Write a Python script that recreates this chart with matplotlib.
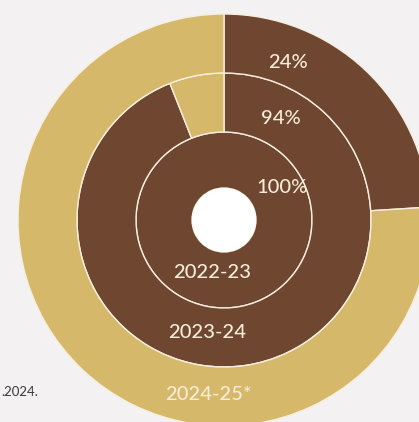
import matplotlib
matplotlib.use("Agg")
import matplotlib.pyplot as plt
from matplotlib.patches import Circle

# Data
years = ["2022-23", "2023-24", "2024-25*"]
shares = [100, 94, 24]          # percent dark (achieved) per year, inner -> outer
pct_labels = ["100%", "94%", "24%"]
footnote = ".2024."

BROWN = "#6f4630"
TAN = "#d6b86a"
BG = "#f3f1f1"
TXT = "#f4ecd6"

fig = plt.figure(figsize=(4.19, 4.22), dpi=100, facecolor=BG)
ax = fig.add_axes([0, 0, 1, 1])
ax.set_facecolor(BG)

# ring geometry in pixels (center at origin)
radii = [88, 147, 206]
widths = [56, 59, 59]

for val, r, w in zip(shares, radii, widths):
    vals = [val, 100 - val] if val < 100 else [val]
    cols = [BROWN, TAN] if val < 100 else [BROWN]
    ax.pie(vals, radius=r, colors=cols, startangle=90, counterclock=False,
           wedgeprops=dict(width=w, edgecolor="#f6efe0", linewidth=1.0),
           frame=False)

ax.add_patch(Circle((0, 0), 32, facecolor="white", edgecolor="none", zorder=5))

ax.set_xlim(-224, 419 - 224)
ax.set_ylim(-(422 - 220), 220)
ax.set_aspect("equal")
ax.axis("off")

font = dict(family=["Lato", "DejaVu Sans"], color=TXT, fontsize=14.5,
            fontweight="medium", ha="center", va="center", zorder=6)
# percent labels (inner -> outer)
pct_pos = [(282 - 224, 220 - 188), (281 - 224, 220 - 118), (288 - 224, 220 - 62)]
for lbl, (x, y) in zip(pct_labels, pct_pos):
    ax.text(x, y, lbl, **font)
# year labels
year_pos = [(212 - 224, 220 - 272), (207 - 224, 220 - 333), (208 - 224, 220 - 395)]
for lbl, (x, y) in zip(years, year_pos):
    ax.text(x, y, lbl, **font)

ax.text(1 - 224, 220 - 392, footnote, family=["Lato", "DejaVu Sans"],
        color="#3a3a3a", fontsize=9.5, ha="left", va="center")

fig.savefig("out.png", dpi=100, facecolor=BG)
